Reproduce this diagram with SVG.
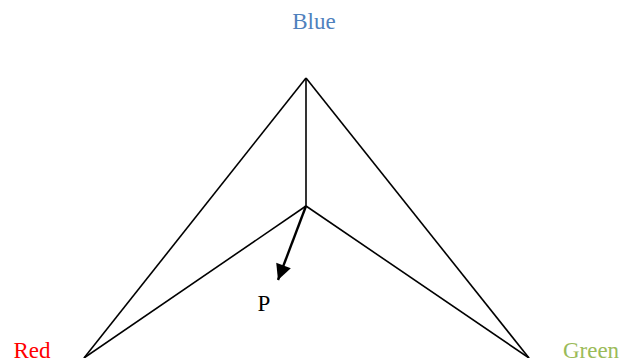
<svg xmlns="http://www.w3.org/2000/svg" width="632" height="358" viewBox="0 0 632 358">
<defs>
<marker id="ah" viewBox="0 0 10 10" refX="10" refY="5" markerWidth="7" markerHeight="6.5" orient="auto" markerUnits="strokeWidth">
<path d="M0,0 L10,5 L0,10 z" fill="#000"/>
</marker>
<style>
.l{stroke:#000;stroke-width:1.6;fill:none}
.t{font-family:"Liberation Serif",serif;font-size:23px;text-anchor:middle}
</style>
</defs>
<rect width="632" height="358" fill="#fff"/>
<g id="connectors">
<line class="l" x1="306" y1="78" x2="84" y2="358"/>
<line class="l" x1="306" y1="78" x2="529" y2="358"/>
<line class="l" x1="306" y1="78" x2="306" y2="206"/>
<line class="l" x1="306" y1="206" x2="84" y2="358"/>
<line class="l" x1="306" y1="206" x2="529" y2="358"/>
<line class="l" x1="306" y1="206" x2="278" y2="280" marker-end="url(#ah)" style="stroke-width:2.4"/>
</g>
<g id="blue"><text class="t" x="314" y="29" fill="#4F81BD">Blue</text></g>
<g id="red"><text class="t" x="32" y="358" fill="#FF0000">Red</text></g>
<g id="green"><text class="t" x="591" y="358" fill="#9BBB59">Green</text></g>
<g id="p"><text class="t" x="264" y="311" fill="#000">P</text></g>
</svg>
